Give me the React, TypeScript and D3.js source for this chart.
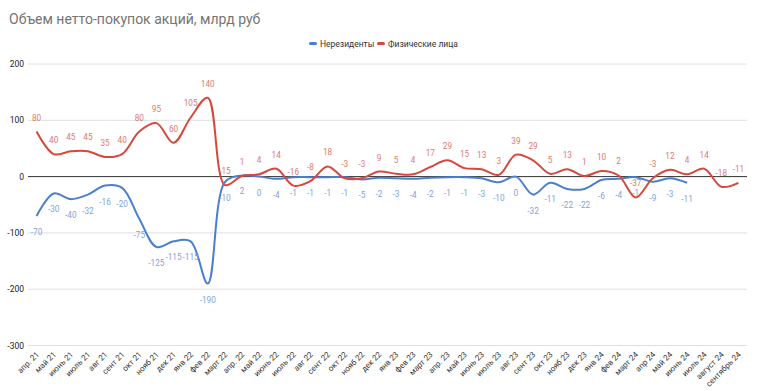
import React, { useEffect, useRef } from 'react';
import * as d3 from 'd3';

const months = [
  'апр. 21', 'май 21', 'июнь 21', 'июль 21', 'авг 21', 'сент 21', 'окт 21', 'нояб 21', 'дек 21',
  'янв 22', 'фев 22', 'март 22', 'апр. 22', 'май 22', 'июнь 22', 'июль 22', 'авг 22', 'сент 22',
  'окт 22', 'нояб 22', 'дек 22', 'янв 23', 'фев 23', 'март 23', 'апр. 23', 'май 23', 'июнь 23',
  'июль 23', 'авг 23', 'сент 23', 'окт 23', 'нояб 23', 'дек 23', 'янв 24', 'фев 24', 'март 24',
  'апр 24', 'май 24', 'июнь 24', 'июль 24', 'август 24', 'сентябрь 24',
];

const nonResidents = [
  -70, -30, -40, -32, -16, -20, -75, -125, -115, -115, -190, -10, 2, 0, -4, -1, -1, -1, -1, -5,
  -2, -3, -4, -2, -1, -1, -3, -10, 0, -32, -11, -22, -22, -6, -4, -1, -9, -3, -11,
];

const individuals = [
  80, 40, 45, 45, 35, 40, 80, 95, 60, 105, 140, -15, 1, 4, 14, -16, -8, 18, -3, -3, 9, 5, 4, 17,
  29, 15, 13, 3, 39, 29, 5, 13, 1, 10, 2, -37, -3, 12, 4, 14, -18, -11,
];

const yTicks = [200, 100, 0, -100, -200, -300];

const W = 758;
const H = 391;
const FONT = 'Roboto, Arial, sans-serif';

export default function App() {
  const svgRef = useRef<SVGSVGElement>(null);

  useEffect(() => {
    if (!svgRef.current) return;
    const svg = d3.select(svgRef.current);
    svg.selectAll('*').remove();

    const x = d3.scalePoint<string>().domain(months).range([28, 747]).padding(0.5);
    const y = d3.scaleLinear().domain([-300, 200]).range([345.5, 64]);

    // заголовок
    svg.append('text')
      .attr('x', 9).attr('y', 24)
      .attr('font-family', FONT).attr('font-size', 14)
      .attr('fill', '#757575')
      .text('Объем нетто-покупок акций, млрд руб');

    // легенда
    const legend = [
      { name: 'Нерезиденты', color: '#4a7fcf', x: 309 },
      { name: 'Физические лица', color: '#d8473d', x: 377 },
    ];
    legend.forEach(l => {
      svg.append('rect')
        .attr('x', l.x).attr('y', 42).attr('width', 8).attr('height', 3)
        .attr('rx', 1.5).attr('fill', l.color);
      svg.append('text')
        .attr('x', l.x + 11).attr('y', 46.5)
        .attr('font-family', FONT).attr('font-size', 8.5)
        .attr('fill', '#333')
        .text(l.name);
    });

    // сетка и подписи оси Y
    yTicks.forEach(t => {
      svg.append('line')
        .attr('x1', 28).attr('x2', 747)
        .attr('y1', y(t)).attr('y2', y(t))
        .attr('stroke', t === 0 ? '#333' : '#e0e0e0')
        .attr('stroke-width', 1);
      svg.append('text')
        .attr('x', 24).attr('y', y(t) + 3)
        .attr('text-anchor', 'end')
        .attr('font-family', FONT).attr('font-size', 8.5)
        .attr('fill', '#222')
        .text(t);
    });

    // подписи оси X
    months.forEach(m => {
      const px = x(m)!;
      svg.append('text')
        .attr('transform', `translate(${px + 3},${355}) rotate(-45)`)
        .attr('text-anchor', 'end')
        .attr('font-family', FONT).attr('font-size', 8)
        .attr('fill', '#333')
        .text(m);
    });

    const series = [
      { values: nonResidents, color: '#4a7fcf', label: '#7fa3da', dy: 19 },
      { values: individuals, color: '#d8473d', label: '#dc7a72', dy: -11 },
    ];

    series.forEach(s => {
      const line = d3.line<number>()
        .x((_, i) => x(months[i])!)
        .y(d => y(d))
        .curve(d3.curveCatmullRom.alpha(0.5));
      svg.append('path')
        .datum(s.values)
        .attr('d', line)
        .attr('fill', 'none')
        .attr('stroke', s.color)
        .attr('stroke-width', 2);
    });

    series.forEach(s => {
      s.values.forEach((v, i) => {
        svg.append('text')
          .attr('x', x(months[i])!)
          .attr('y', y(v) + s.dy)
          .attr('text-anchor', 'middle')
          .attr('font-family', FONT).attr('font-size', 8.2)
          .attr('fill', s.label)
          .text(v);
      });
    });
  }, []);

  return (
    <svg
      ref={svgRef}
      width={W}
      height={H}
      style={{ position: 'absolute', left: 0, top: 0, background: '#fff' }}
    />
  );
}
